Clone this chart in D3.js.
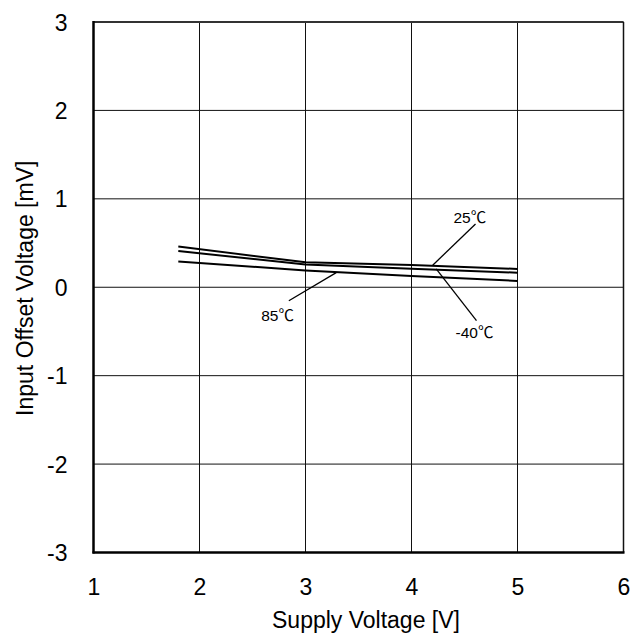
<!DOCTYPE html>
<html><head><meta charset="utf-8">
<script src="https://cdn.jsdelivr.net/npm/d3@7"></script>
<style>body{margin:0;background:#fff;} text{font-family:"Liberation Sans",Arial,"Noto Sans CJK JP",sans-serif;fill:#000;}</style>
</head><body><svg id="c" width="640" height="636"></svg>
<script>
const xTicks = [1,2,3,4,5,6];
const yTicks = [-3,-2,-1,0,1,2,3];
const supplyV = [1.8,3,4,5];
const seriesNames = ["25℃","-40℃","85℃"];
const v25 = [0.46,0.283,0.252,0.207];
const vm40 = [0.41,0.256,0.21,0.165];
const v85 = [0.29,0.19,0.128,0.071];
// annotations (data units): text anchor, leader line start/end
const annLabels = ["25℃","-40℃","85℃"];
const annText = [[4.55,0.727],[4.594,-0.574],[2.736,-0.378]];
const annFrom = [[4.604,0.716],[4.233,0.207],[2.843,-0.152]];
const annTo = [[4.20,0.249],[4.613,-0.378],[3.29,0.165]];

const FONT = "Liberation Sans, Arial, Noto Sans CJK JP, sans-serif";
const svg = d3.select("#c");
const L=93.5,R=623.5,T=22,B=552.5;
const x = d3.scaleLinear().domain([1,6]).range([L,R]);
const y = d3.scaleLinear().domain([-3,3]).range([B,T]);

const g = svg.append("g");
// grid
g.selectAll(".vg").data(xTicks).enter().append("line")
 .attr("x1",d=>x(d)).attr("x2",d=>x(d)).attr("y1",T).attr("y2",B)
 .attr("stroke","#111").attr("stroke-width",1);
g.selectAll(".hg").data(yTicks).enter().append("line")
 .attr("y1",d=>y(d)).attr("y2",d=>y(d)).attr("x1",L).attr("x2",R)
 .attr("stroke","#111").attr("stroke-width",1);
// frame
g.append("line").attr("x1",L).attr("x2",R).attr("y1",T).attr("y2",T).attr("stroke","#333").attr("stroke-width",2);
g.append("line").attr("x1",R).attr("x2",R).attr("y1",T).attr("y2",B).attr("stroke","#111").attr("stroke-width",1.5);
g.append("line").attr("x1",L).attr("x2",L).attr("y1",T-1).attr("y2",B+1).attr("stroke","#000").attr("stroke-width",2.5);
g.append("line").attr("x1",L-1).attr("x2",R+1).attr("y1",B).attr("y2",B).attr("stroke","#000").attr("stroke-width",2.5);

// tick labels via d3 axes
const xa = d3.axisBottom(x).tickValues(xTicks).tickSize(0).tickPadding(26).tickFormat(d=>String(d));
const xg = svg.append("g").attr("transform",`translate(0,${B})`).call(xa);
xg.select(".domain").remove();
xg.attr("font-family",FONT);
xg.selectAll("text").attr("font-size",23).attr("fill","#000").attr("dy",null).attr("y",42.5);
const ya = d3.axisLeft(y).tickValues(yTicks).tickSize(0).tickPadding(26).tickFormat(d=>String(d));
const yg = svg.append("g").attr("transform",`translate(${L},0)`).call(ya);
yg.select(".domain").remove();
yg.attr("font-family",FONT);
yg.selectAll("text").attr("font-size",23).attr("fill","#000").attr("dy","0.35em");

// axis titles
svg.append("text").attr("x",272).attr("y",628).attr("text-anchor","start").attr("font-size",23).text("Supply Voltage [V]");
svg.append("text").attr("transform",`translate(33,${(T+B)/2+1}) rotate(-90)`).attr("text-anchor","middle").attr("font-size",23).text("Input Offset Voltage [mV]");

// series
const line = d3.line().x(d=>x(d[0])).y(d=>y(d[1]));
[v25,vm40,v85].forEach(s=>{
  g.append("path").datum(supplyV.map((v,i)=>[v,s[i]])).attr("d",line)
   .attr("fill","none").attr("stroke","#000").attr("stroke-width",2);
});
// annotations
annLabels.forEach((t,i)=>{
  g.append("line").attr("x1",x(annFrom[i][0])).attr("y1",y(annFrom[i][1]))
   .attr("x2",x(annTo[i][0])).attr("y2",y(annTo[i][1])).attr("stroke","#000").attr("stroke-width",1.3);
  g.append("text").attr("x",x(annText[i][0])).attr("y",y(annText[i][1])).attr("text-anchor","middle")
   .attr("font-size",15.5).text(t);
});
</script></body></html>
